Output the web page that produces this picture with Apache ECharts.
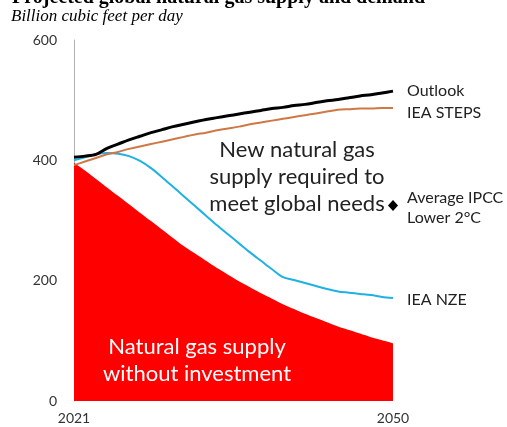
<!DOCTYPE html>
<html><head><meta charset="utf-8">
<script src="https://cdn.jsdelivr.net/npm/echarts@6/dist/echarts.min.js"></script>
<style>html,body{margin:0;padding:0;background:#fff}#c{width:507px;height:427px}</style>
</head><body><div id="c"></div>
<script>
var years = [];
for (var y = 2021; y <= 2050; y++) years.push(String(y));
var outlook = [405,407,410,420,427,434,440,446,451,456,460,464,468,471,474,477,480,483,486,488,491,493,496,499,501,504,507,509,512,515];
var ieaSteps = [392,398,404,410,414,419,423,427,431,435,439,443,446,450,453,456,460,463,466,469,472,475,478,481,484,485,486,486,487,487];
var ieaNze = [400,405,410,412,411,407,399,387,372,356,340,324,308,292,277,262,247,233,219,206,201,196,191,186,182,180,178,176,173,171];
var noInvestment = [396,383,369,355,341,327,313,299,285,271,257,245,233,221,210,199,189,179,170,161,153,145,138,131,124,118,112,106,101,96];
var ipcc = [['2050', 325]];
var yTicks = [0, 200, 400, 600];

var font = 'Lato';
var chart = echarts.init(document.getElementById('c'));
chart.setOption({
  animation: false,
  title: [
    {text: 'Projected global natural gas supply and demand', left: 7, top: -17,
     textStyle: {fontFamily: 'Liberation Serif', fontWeight: 'bold', fontSize: 20, color: '#000'}},
    {text: 'Billion cubic feet per day', left: 6, top: 3,
     textStyle: {fontFamily: 'Liberation Serif', fontStyle: 'italic', fontWeight: 'normal', fontSize: 17, color: '#000'}}
  ],
  grid: {left: 74, right: 114, top: 40, bottom: 26},
  xAxis: {
    type: 'category', data: years, boundaryGap: false,
    axisLine: {show: false}, axisTick: {show: false}, splitLine: {show: false},
    axisLabel: {interval: function (i) { return i === 0 || i === years.length - 1; },
      fontFamily: font, fontSize: 14, color: '#333', margin: 10}
  },
  yAxis: {
    type: 'value', min: 0, max: 600, interval: 200,
    axisLine: {show: true, lineStyle: {color: '#b0b0b0', width: 1}},
    axisTick: {show: false}, splitLine: {show: false},
    axisLabel: {fontFamily: font, fontSize: 14, color: '#333', margin: 17,
      formatter: function (v) { return yTicks.indexOf(v) >= 0 ? String(v) : ''; }}
  },
  series: [
    {name: 'Natural gas supply without investment', type: 'line', data: noInvestment,
     symbol: 'none', smooth: 0.3, lineStyle: {width: 0}, areaStyle: {color: '#fe0000', opacity: 1}, z: 1},
    {name: 'IEA NZE', type: 'line', data: ieaNze, symbol: 'none', smooth: 0.3,
     lineStyle: {color: '#1fb1e3', width: 2}, z: 3,
     endLabel: {show: true, formatter: 'IEA NZE', distance: 14, offset: [0, 2],
       fontFamily: font, fontSize: 16, color: '#222'}},
    {name: 'IEA STEPS', type: 'line', data: ieaSteps, symbol: 'none', smooth: 0.3,
     lineStyle: {color: '#cf7845', width: 2}, z: 4,
     endLabel: {show: true, formatter: 'IEA STEPS', distance: 14, offset: [0, 5],
       fontFamily: font, fontSize: 16, color: '#222'}},
    {name: 'Outlook', type: 'line', data: outlook, symbol: 'none', smooth: 0.3,
     lineStyle: {color: '#000', width: 3}, z: 5,
     endLabel: {show: true, formatter: 'Outlook', distance: 14, offset: [0, 0],
       fontFamily: font, fontSize: 16, color: '#222'}},
    {name: 'Average IPCC Lower 2°C', type: 'scatter', data: ipcc, symbol: 'diamond', symbolSize: [10, 11],
     itemStyle: {color: '#000', opacity: 1}, z: 6,
     label: {show: true, position: 'right', distance: 9, offset: [0, 2], opacity: 1,
       formatter: 'Average IPCC\nLower 2°C', fontFamily: font, fontSize: 16, lineHeight: 20, color: '#222'}}
  ],
  graphic: [
    {type: 'text', x: 297, y: 136, z: 100, style: {text: 'New natural gas\nsupply required to\nmeet global needs',
      fill: '#222', font: '22px Lato', textAlign: 'center', lineHeight: 27}},
    {type: 'text', x: 197, y: 333, z: 100, style: {text: 'Natural gas supply\nwithout investment',
      fill: '#fff', font: '22px Lato', textAlign: 'center', lineHeight: 27}}
  ]
});
</script></body></html>
